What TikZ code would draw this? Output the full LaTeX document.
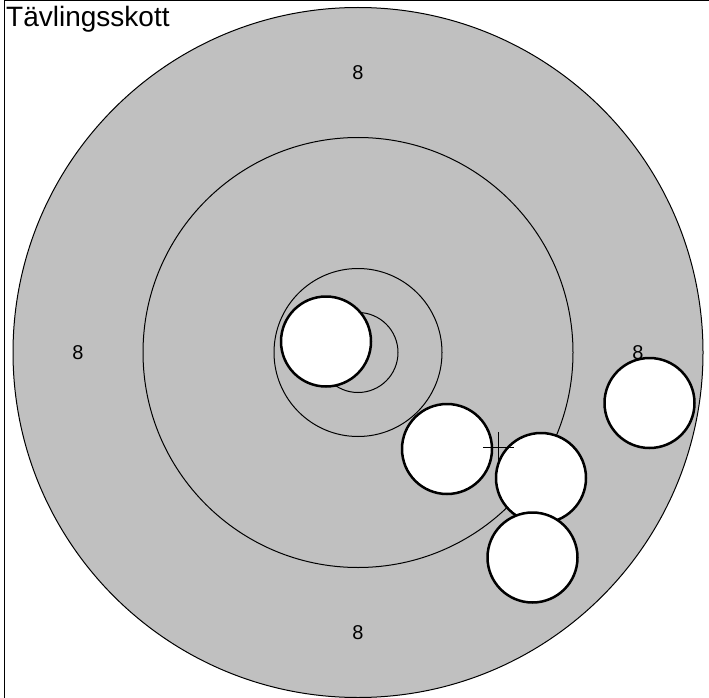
\documentclass[tikz,border=0pt]{standalone}
\usepackage{fontspec}
\setmainfont{Liberation Sans}
\definecolor{targetgray}{HTML}{C0C0C0}
\begin{document}
\begin{tikzpicture}[x=1pt, y=-1pt,
    ring/.style={draw=black, line width=1pt},
    hole/.style={fill=white, draw=black, line width=2.5pt},
    score/.style={font=\fontsize{20}{20}\selectfont, inner sep=0pt}]
    \useasboundingbox (0,0) rectangle (709,698);

    % frame and heading
    \draw[line width=1.5pt] (4.5,698) -- (4.5,0.5) -- (709,0.5);
    \node[anchor=base west, inner sep=0pt, font=\fontsize{28}{30}\selectfont] (title) at (6,27) {Tävlingsskott};

    % target
    \coordinate (mid) at (358,352.5);
    \filldraw[ring, fill=targetgray] (mid) circle [radius=345pt];
    \draw[ring] (mid) circle [radius=215pt];
    \draw[ring] (mid) circle [radius=84pt];
    \draw[ring] (mid) circle [radius=40pt];

    \foreach \a in {0,90,180,270}
        \node[score] (score\a) at ([shift={(\a:280)}]mid) {8};

    % hits
    \foreach \hx/\hy in {326/341.5, 447/449, 541/478, 532.5/557.5, 649.5/403}
        \draw[hole] (\hx,\hy) circle [radius=45pt];

    % aiming mark
    \draw[line width=1pt] (483,447) -- (514,447) (498,432) -- (498,462);
\end{tikzpicture}
\end{document}
